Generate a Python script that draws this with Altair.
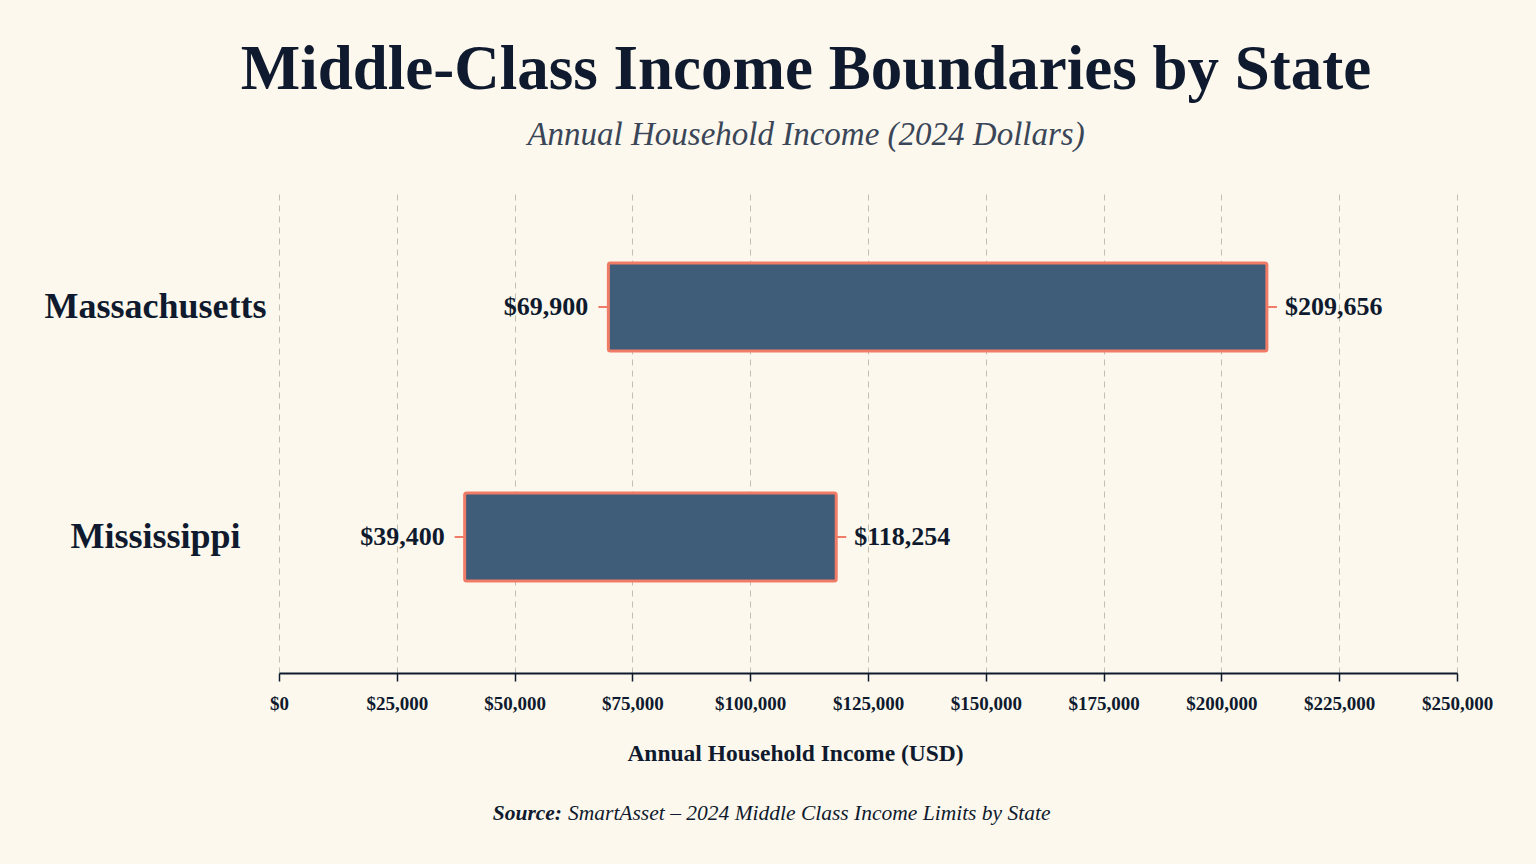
import altair as alt
import pandas as pd

states = ["Massachusetts", "Mississippi"]
lower = [69900, 39400]
upper = [209656, 118254]
lower_labels = ["$69,900", "$39,400"]
upper_labels = ["$209,656", "$118,254"]
tick_values = [0, 25000, 50000, 75000, 100000, 125000, 150000, 175000, 200000, 225000, 250000]
source_label = ["Source:"]
source_text = ["SmartAsset \u2013 2024 Middle Class Income Limits by State"]

df = pd.DataFrame({"state": states, "low": lower, "high": upper,
                   "low_label": lower_labels, "high_label": upper_labels})
src = pd.DataFrame({"label": source_label, "text": source_text})

FONT = "Liberation Serif"
INK = "#0f1a2e"
BAR = "#3f5c78"
CORAL = "#f07c68"
BG = "#fcf8ed"

x_scale = alt.Scale(domain=[0, 250000], nice=False, zero=True)
y_scale = alt.Scale(domain=states, paddingInner=0, paddingOuter=0.0457, align=0)

x_enc = alt.X("low:Q", scale=x_scale, axis=alt.Axis(
    values=tick_values, format="$,.0f", title="Annual Household Income (USD)",
    grid=True, gridDash=[6, 5], gridColor="#c4beb0", gridWidth=1,
    domainColor=INK, domainWidth=2, tickColor=INK, tickWidth=1.5, tickSize=8,
    labelFont=FONT, labelFontSize=19, labelFontWeight="bold", labelColor=INK,
    labelPadding=13, labelFlush=False, labelOverlap=False,
    titleFont=FONT, titleFontSize=23.5, titleFontWeight="bold",
    titleColor=INK, titleX=516, titleY=87, titleBaseline="alphabetic", titleAlign="center"))
y_enc = alt.Y("state:N", scale=y_scale, sort=states, axis=alt.Axis(
    title=None, domain=False, ticks=False, grid=False, labelAlign="center",
    labelPadding=124, labelLimit=0, labelFont=FONT, labelFontSize=36, labelFontWeight="bold",
    labelColor=INK))

base = alt.Chart(df)

bars = base.mark_bar(size=88, fill=BAR, stroke=CORAL, strokeWidth=3, cornerRadius=2).encode(
    x=x_enc, x2="high:Q", y=y_enc)

left_tick = base.mark_rule(color=CORAL, strokeWidth=2, xOffset=-10).encode(
    x="low:Q", x2="low:Q", y="state:N")
right_tick = base.mark_rule(color=CORAL, strokeWidth=2, x2Offset=10).encode(
    x="high:Q", x2="high:Q", y="state:N")

left_text = base.mark_text(align="right", dx=-20, font=FONT, fontSize=26,
                           fontWeight="bold", color=INK, baseline="middle").encode(
    x="low:Q", y="state:N", text="low_label:N")
right_text = base.mark_text(align="left", dx=18, font=FONT, fontSize=26,
                            fontWeight="bold", color=INK, baseline="middle").encode(
    x="high:Q", y="state:N", text="high_label:N")

src_a = alt.Chart(src).mark_text(align="right", font=FONT, fontSize=21.5, fontWeight="bold",
                                 fontStyle="italic", color=INK, baseline="alphabetic").encode(
    x=alt.value(283), y=alt.value(628), text="label:N")
src_b = alt.Chart(src).mark_text(align="left", font=FONT, fontSize=21.5,
                                 fontStyle="italic", color=INK, baseline="alphabetic").encode(
    x=alt.value(289), y=alt.value(628), text="text:N")

chart = alt.layer(bars, left_tick, right_tick, left_text, right_text, src_a, src_b).properties(
    width=1178, height=481,
    title=alt.TitleParams(
        text="Middle-Class Income Boundaries by State",
        subtitle="Annual Household Income (2024 Dollars)",
        font=FONT, fontSize=63, fontWeight="bold", color=INK,
        subtitleFont=FONT, subtitleFontSize=33, subtitleFontStyle="italic",
        subtitleColor="#3a4658", anchor="middle", frame="group", dx=-62,
        offset=40, subtitlePadding=17),
    autosize=alt.AutoSizeParams(type="none"),
    padding={"left": 279, "top": 192, "right": 79, "bottom": 191},
).configure(background=BG).configure_view(stroke=None)

chart.save("out.html", embed_options={"renderer": "svg", "actions": False})
